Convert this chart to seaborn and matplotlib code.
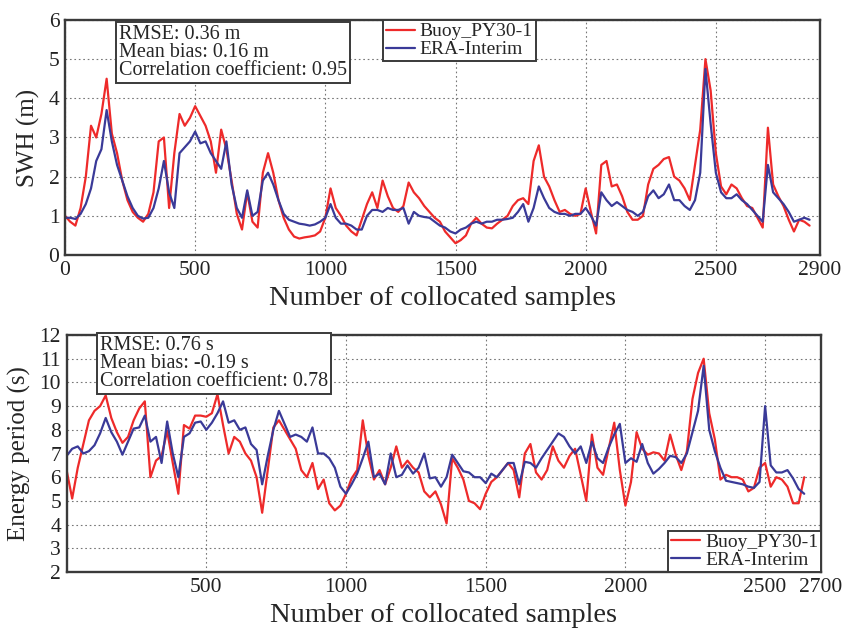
import numpy as np
import pandas as pd
import matplotlib
matplotlib.use("Agg")
import matplotlib.pyplot as plt
import seaborn as sns

# ---------------- data ----------------
STEP = 20
swh_buoy = [1.0, 0.85, 0.75, 1.2, 2.0, 3.3, 3.0, 3.6, 4.5, 3.1, 2.6, 1.9, 1.4, 1.1, 0.95, 0.85,
            1.05, 1.6, 2.9, 3.0, 1.2, 2.6, 3.6, 3.3, 3.5, 3.8, 3.55, 3.3, 2.9, 2.1, 3.2, 2.7,
            1.9, 1.05, 0.65, 1.6, 0.85, 0.7, 2.1, 2.6, 2.1, 1.4, 0.95, 0.65, 0.47, 0.42, 0.45, 0.47,
            0.5, 0.6, 0.95, 1.7, 1.2, 1.0, 0.75, 0.6, 0.5, 0.9, 1.3, 1.6, 1.2, 1.9, 1.5, 1.2,
            1.1, 1.25, 1.85, 1.6, 1.45, 1.25, 1.1, 0.95, 0.85, 0.6, 0.45, 0.3, 0.38, 0.5, 0.8, 0.95,
            0.8, 0.7, 0.68, 0.8, 0.9, 1.0, 1.25, 1.4, 1.45, 1.3, 2.4, 2.8, 2.0, 1.75, 1.4, 1.1,
            1.15, 1.05, 1.0, 1.05, 1.7, 1.1, 0.55, 2.3, 2.4, 1.75, 1.8, 1.5, 1.1, 0.9, 0.9, 1.0,
            1.8, 2.2, 2.3, 2.45, 2.5, 2.0, 1.9, 1.7, 1.4, 2.3, 3.2, 5.0, 4.2, 2.6, 1.75, 1.55,
            1.8, 1.7, 1.45, 1.25, 1.2, 0.95, 0.7, 3.25, 1.8, 1.5, 1.25, 0.9, 0.6, 0.9, 0.85, 0.75]
swh_era = [0.95, 0.95, 0.92, 1.05, 1.3, 1.7, 2.4, 2.7, 3.7, 2.9, 2.3, 1.9, 1.5, 1.2, 1.0, 0.93,
           0.95, 1.2, 1.7, 2.4, 1.6, 1.2, 2.6, 2.75, 2.9, 3.15, 2.85, 2.9, 2.6, 2.4, 2.2, 2.9,
           1.8, 1.2, 0.95, 1.65, 1.0, 1.1, 1.9, 2.1, 1.8, 1.4, 1.05, 0.9, 0.85, 0.8, 0.78, 0.75,
           0.78, 0.85, 0.95, 1.3, 0.95, 0.8, 0.8, 0.75, 0.65, 0.65, 1.0, 1.15, 1.15, 1.1, 1.2, 1.15,
           1.15, 1.2, 0.8, 1.1, 1.0, 0.97, 0.95, 0.85, 0.75, 0.7, 0.6, 0.55, 0.65, 0.7, 0.8, 0.85,
           0.8, 0.85, 0.85, 0.9, 0.9, 0.92, 0.95, 1.1, 1.3, 0.85, 1.2, 1.75, 1.45, 1.2, 1.1, 1.05,
           1.05, 1.0, 1.05, 1.05, 1.2, 1.0, 0.75, 1.6, 1.4, 1.25, 1.35, 1.25, 1.15, 1.1, 1.0, 1.1,
           1.5, 1.65, 1.45, 1.55, 1.8, 1.4, 1.4, 1.25, 1.15, 1.4, 2.1, 4.75, 3.35, 2.1, 1.6, 1.45,
           1.45, 1.55, 1.4, 1.3, 1.15, 1.0, 0.85, 2.3, 1.6, 1.45, 1.3, 1.1, 0.85, 0.9, 0.95, 0.9]

te_buoy = [6.3, 5.1, 6.4, 7.4, 8.4, 8.8, 9.0, 9.45, 8.5, 7.9, 7.45, 7.7, 8.4, 8.9, 9.2, 6.0,
           6.7, 6.9, 7.95, 6.6, 5.3, 8.2, 8.05, 8.6, 8.6, 8.55, 8.7, 9.5, 8.2, 7.0, 7.7, 7.5,
           7.0, 6.7, 6.0, 4.5, 6.3, 8.1, 8.4, 8.0, 7.6, 7.2, 6.3, 6.0, 6.6, 5.5, 5.9, 4.9,
           4.6, 4.8, 5.3, 5.95, 6.3, 8.4, 6.9, 5.9, 6.3, 5.7, 6.4, 7.3, 6.4, 6.7, 6.4, 6.2,
           5.4, 5.15, 5.4, 4.85, 4.05, 6.8, 6.4, 5.9, 5.0, 4.9, 4.65, 5.3, 5.8, 6.0, 6.3, 6.6,
           6.3, 5.15, 7.0, 7.4, 6.2, 5.9, 6.3, 7.3, 6.7, 6.4, 6.9, 7.2, 6.1, 5.0, 7.8, 6.4,
           6.1, 7.2, 8.3, 6.3, 4.8, 5.8, 7.9, 7.2, 6.95, 7.05, 7.0, 6.7, 7.8, 6.95, 6.3, 7.1,
           9.3, 10.4, 11.0, 8.7, 7.6, 5.9, 6.1, 6.0, 6.0, 5.9, 5.4, 5.55, 6.4, 6.6, 5.6, 6.0,
           5.9, 5.6, 4.9, 4.9, 6.0]
te_era = [6.9, 7.2, 7.3, 7.0, 7.1, 7.35, 7.85, 8.5, 7.9, 7.5, 6.95, 7.5, 8.05, 8.1, 8.6, 7.5,
          7.7, 6.6, 8.35, 7.0, 6.0, 7.7, 7.85, 8.3, 8.35, 8.0, 8.3, 8.7, 9.2, 8.3, 8.4, 8.0,
          8.1, 7.4, 7.15, 5.7, 6.9, 8.0, 8.8, 8.25, 7.7, 7.8, 7.7, 7.5, 8.1, 7.0, 7.0, 6.8,
          6.4, 5.6, 5.3, 5.7, 6.15, 6.8, 7.5, 6.0, 6.15, 5.7, 7.0, 6.0, 6.1, 6.5, 6.15, 6.4,
          7.0, 5.95, 6.0, 5.6, 6.0, 6.95, 6.6, 6.25, 6.2, 6.0, 6.0, 5.75, 6.15, 6.0, 6.3, 6.6,
          6.6, 5.7, 6.65, 6.6, 6.4, 6.8, 7.15, 7.5, 7.85, 7.7, 7.3, 7.0, 7.3, 6.6, 7.5, 6.8,
          6.6, 7.25, 7.8, 8.25, 6.6, 6.8, 6.65, 7.4, 6.6, 6.15, 6.35, 6.6, 6.9, 6.85, 6.6, 7.0,
          7.9, 8.8, 10.7, 8.0, 7.1, 6.4, 5.85, 5.8, 5.75, 5.7, 5.6, 5.55, 5.8, 9.0, 6.5, 6.2,
          6.2, 6.3, 5.95, 5.5, 5.3]

series_names = ["Buoy_PY30-1", "ERA-Interim"]
top_stats = ["RMSE: 0.36 m", "Mean bias: 0.16 m", "Correlation coefficient: 0.95"]
bot_stats = ["RMSE: 0.76 s", "Mean bias: -0.19 s", "Correlation coefficient: 0.78"]
top_xticks = [0, 500, 1000, 1500, 2000, 2500, 2900]
bot_xticks = [500, 1000, 1500, 2000, 2500, 2700]

# ---------------- style ----------------
sns.set_style("white")
plt.rcParams["font.family"] = ["Liberation Serif", "DejaVu Serif"]

RED = "#EE2A2A"
BLUE = "#3A3A98"
FRAME = "#3a3a3a"

fig = plt.figure(figsize=(8.45, 6.34), dpi=100)
ax1 = fig.add_axes([0.0769, 0.5978, 0.8935, 0.3707])
ax2 = fig.add_axes([0.0788, 0.0978, 0.8928, 0.3738])


def make_df(a, b):
    n = len(a)
    idx = np.arange(n) * STEP
    return pd.DataFrame({"x": np.concatenate([idx, idx]),
                         "y": np.concatenate([a, b]),
                         "src": [series_names[0]] * n + [series_names[1]] * n})


def style_axis(ax, xlim, ylim, xticks, yticks, ylabel):
    ax.set_xlim(*xlim)
    ax.set_ylim(*ylim)
    ax.set_xticks(xticks)
    ax.set_yticks(yticks)
    ax.grid(True, linestyle=(0, (1.5, 2.5)), color="#777777", linewidth=0.8)
    ax.set_axisbelow(True)
    for sp in ax.spines.values():
        sp.set_color(FRAME)
        sp.set_linewidth(1.7)
    ax.tick_params(axis="both", labelsize=15.5, length=0, pad=4, colors="#222222")
    ax.set_xlabel("Number of collocated samples", fontsize=20.5, labelpad=5)
    ax.set_ylabel(ylabel, fontsize=18, labelpad=6)


def stats_box(ax, lines, x, y):
    ax.text(x, y, "\n".join(lines), transform=ax.transAxes, ha="left", va="top",
            fontsize=14.5, linespacing=0.92, zorder=5,
            bbox=dict(boxstyle="square,pad=0.15", facecolor="white",
                      edgecolor=FRAME, linewidth=1.4))


palette = {series_names[0]: RED, series_names[1]: BLUE}
leg_kw = dict(fontsize=14, handlelength=1.5, handletextpad=0.25, borderpad=0.15,
              labelspacing=0.02, borderaxespad=0.0, fancybox=False, framealpha=1)

# top panel
df1 = make_df(swh_buoy, swh_era)
sns.lineplot(data=df1, x="x", y="y", hue="src", palette=palette, ax=ax1,
             linewidth=1.6, legend=True)
style_axis(ax1, (0, 2900), (0, 6), top_xticks, range(0, 7), "SWH (m)")
stats_box(ax1, top_stats, 0.072, 0.978)
leg1 = ax1.legend(loc="upper left", bbox_to_anchor=(0.421, 1.0), **leg_kw)
leg1.get_frame().set_edgecolor(FRAME)
leg1.get_frame().set_linewidth(1.4)

# bottom panel
df2 = make_df(te_buoy, te_era)
sns.lineplot(data=df2, x="x", y="y", hue="src", palette=palette, ax=ax2,
             linewidth=1.6, legend=True)
style_axis(ax2, (0, 2700), (2, 12), bot_xticks, range(2, 13), "Energy period (s)")
stats_box(ax2, bot_stats, 0.044, 0.995)
leg2 = ax2.legend(loc="lower right", **leg_kw)
leg2.get_frame().set_edgecolor(FRAME)
leg2.get_frame().set_linewidth(1.4)

fig.savefig("out.png", dpi=100)
